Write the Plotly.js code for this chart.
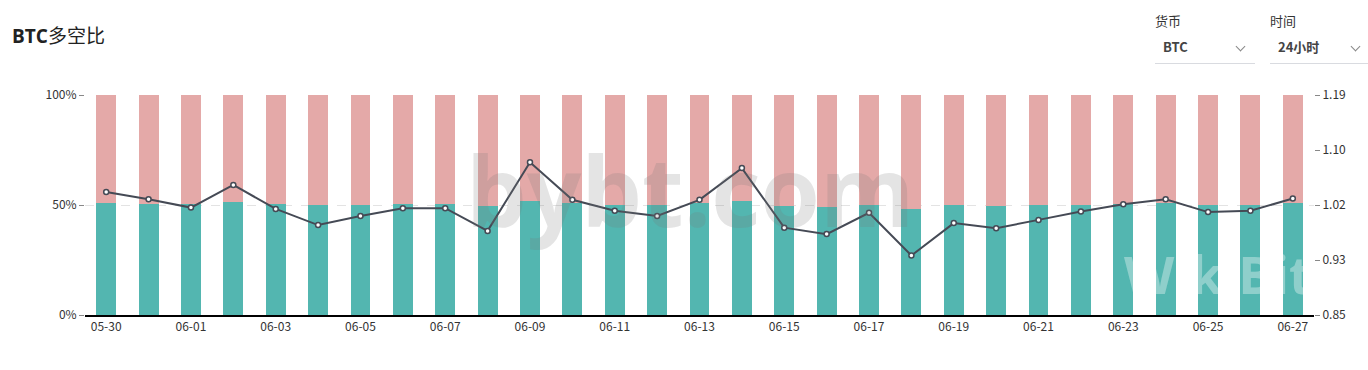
<!DOCTYPE html>
<html>
<head>
<meta charset="utf-8">
<script src="https://cdn.plot.ly/plotly-3.0.1.min.js"></script>
<style>
  html, body { margin: 0; padding: 0; background: #fff; }
  body { width: 1368px; height: 370px; position: relative; overflow: hidden; font-family: "Noto Sans CJK SC", "Open Sans", sans-serif; }
  #chart { position: absolute; left: 0; top: 0; width: 1368px; height: 370px; }
  .title { position: absolute; left: 12px; top: 21px; font-size: 19px; color: #222; }
  .title b { font-family: "Open Sans", "Noto Sans CJK SC", sans-serif; font-weight: 700; }
  .lbl { position: absolute; font-size: 13px; color: #333; }
  .sel { position: absolute; font-size: 13px; font-weight: 700; color: #444; }
  .chev { position: absolute; width: 6px; height: 6px; border-right: 1.3px solid #888; border-bottom: 1.3px solid #888; transform: rotate(45deg); }
  .line { position: absolute; height: 1px; background: #d9dbe0; }
</style>
</head>
<body>
<div id="chart"></div>
<div class="title"><b>BTC</b>多空比</div>
<div class="lbl" style="left:1155px;top:11px;">货币</div>
<div class="sel" style="left:1163px;top:37px;">BTC</div>
<div class="chev" style="left:1237px;top:43px;"></div>
<div class="line" style="left:1155px;top:63px;width:100px;"></div>
<div class="lbl" style="left:1270px;top:11px;">时间</div>
<div class="sel" style="left:1278px;top:37px;">24小时</div>
<div class="chev" style="left:1352px;top:43px;"></div>
<div class="line" style="left:1270px;top:63px;width:98px;"></div>
<script>
const dates = ['05-30','05-31','06-01','06-02','06-03','06-04','06-05','06-06','06-07','06-08',
  '06-09','06-10','06-11','06-12','06-13','06-14','06-15','06-16','06-17','06-18',
  '06-19','06-20','06-21','06-22','06-23','06-24','06-25','06-26','06-27'];
const longPct = [51.0, 50.6, 50.4, 51.2, 50.3, 49.8, 50.1, 50.3, 50.3, 49.7,
  52.0, 50.7, 50.2, 50.0, 50.7, 51.8, 49.7, 49.2, 50.2, 48.4,
  49.8, 49.7, 49.9, 50.2, 50.5, 50.7, 50.2, 50.2, 50.7];
const shortPct = [49.0, 49.4, 49.6, 48.8, 49.7, 50.2, 49.9, 49.7, 49.7, 50.3,
  48.0, 49.3, 49.8, 50.0, 49.3, 48.2, 50.3, 50.8, 49.8, 51.6,
  50.2, 50.3, 50.1, 49.8, 49.5, 49.3, 49.8, 49.8, 49.3];
const ratio = [1.040, 1.029, 1.016, 1.051, 1.014, 0.989, 1.003, 1.015, 1.015, 0.980,
  1.086, 1.028, 1.011, 1.003, 1.028, 1.077, 0.985, 0.975, 1.008, 0.942,
  0.992, 0.984, 0.997, 1.010, 1.021, 1.029, 1.009, 1.011, 1.030];
const leftTicks = [0, 50, 100];
const rightTickVals = [0.85, 0.935, 1.02, 1.105, 1.19];
const rightTickText = ['0.85', '0.93', '1.02', '1.10', '1.19'];
const xTicks = dates.filter((d, i) => i % 2 === 0);

const fontFam = '"Noto Sans CJK SC", "Open Sans", sans-serif';

const traces = [
  { type: 'bar', x: dates, y: longPct, name: '多', marker: { color: '#53b6b0' }, hoverinfo: 'x+y' },
  { type: 'bar', x: dates, y: shortPct, name: '空', marker: { color: '#e4a9a8' }, hoverinfo: 'x+y' },
  { type: 'scatter', mode: 'lines+markers', x: dates, y: ratio, yaxis: 'y2', name: '多空比',
    line: { color: '#454a55', width: 2 },
    marker: { size: 5, color: '#ffffff', line: { color: '#454a55', width: 1.5 } } }
];

const layout = {
  width: 1368, height: 370,
  margin: { l: 85, r: 54, t: 95, b: 55 },
  paper_bgcolor: 'rgba(0,0,0,0)', plot_bgcolor: 'rgba(0,0,0,0)',
  barmode: 'stack', bargap: 0.53,
  showlegend: false,
  font: { family: fontFam, size: 12, color: '#333' },
  xaxis: {
    type: 'category', range: [-0.5, dates.length - 0.5], autorange: false,
    tickvals: xTicks, ticktext: xTicks,
    showline: true, linecolor: '#000', linewidth: 1.5,
    ticks: '', showgrid: false, zeroline: false,
    tickfont: { size: 12, color: '#333' }, fixedrange: true
  },
  yaxis: {
    range: [0, 100], tickvals: leftTicks, ticktext: ['0%', '50%', '100%'],
    ticks: 'outside', ticklen: 5, tickcolor: '#888', tickwidth: 1,
    showgrid: true, gridcolor: '#e3e3e3', griddash: 'dash', gridwidth: 1,
    zeroline: false, showline: false,
    tickfont: { size: 12, color: '#333' }, fixedrange: true
  },
  yaxis2: {
    overlaying: 'y', side: 'right', range: [0.85, 1.19],
    tickvals: rightTickVals, ticktext: rightTickText,
    ticks: 'outside', ticklen: 5, tickcolor: '#888',
    showgrid: false, zeroline: false, showline: false,
    tickfont: { size: 12, color: '#333' }, fixedrange: true
  },
  annotations: [
    { xref: 'paper', yref: 'paper', x: 0.492, y: 0.57, text: 'bybt.com', showarrow: false,
      font: { family: 'Open Sans, sans-serif', size: 96, color: 'rgba(120,120,120,0.2)', weight: 700 } },
    { xref: 'paper', yref: 'paper', x: 1.0, y: 0.02, xanchor: 'right', yanchor: 'bottom', text: 'WikiBit', showarrow: false,
      font: { family: 'Open Sans, sans-serif', size: 52, color: 'rgba(255,255,255,0.35)', weight: 700 } }
  ]
};

Plotly.newPlot('chart', traces, layout, { displayModeBar: false, staticPlot: false });
</script>
</body>
</html>
